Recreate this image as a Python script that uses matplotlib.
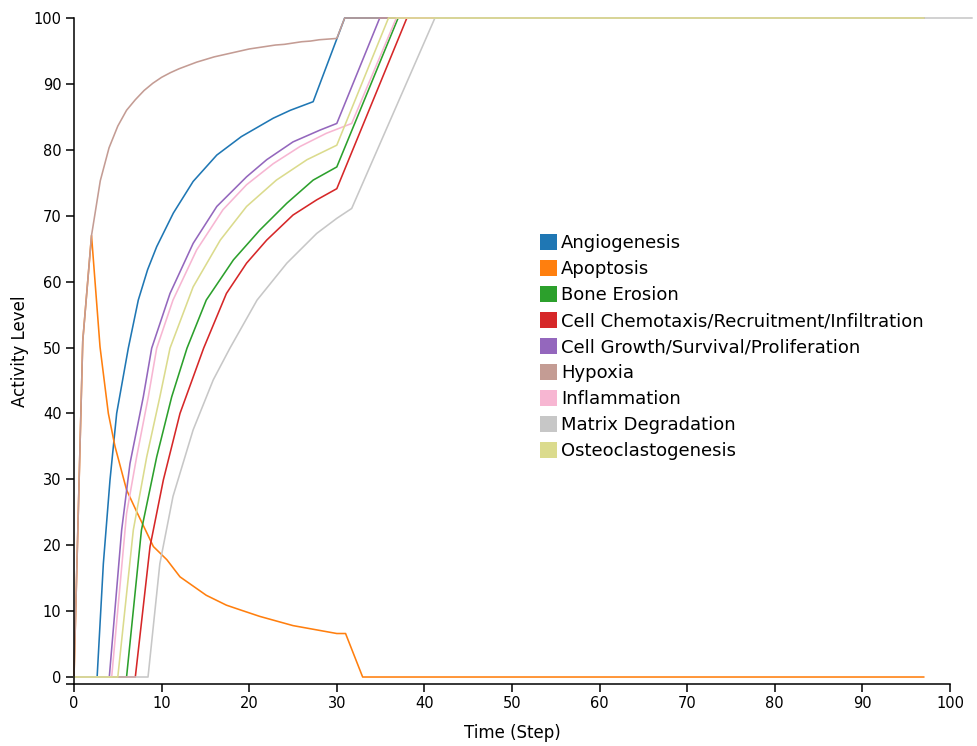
import matplotlib
matplotlib.use("Agg")
import matplotlib.pyplot as plt
from matplotlib.patches import Patch

plt.rcParams['font.family'] = ['DejaVu Sans']

names = ['Angiogenesis', 'Apoptosis', 'Bone Erosion',
         'Cell Chemotaxis/Recruitment/Infiltration',
         'Cell Growth/Survival/Proliferation', 'Hypoxia', 'Inflammation',
         'Matrix Degradation', 'Osteoclastogenesis']
colors = ['#1f77b4', '#ff7f0e', '#2ca02c', '#d62728', '#9467bd',
          '#c49c94', '#f7b6d2', '#c7c7c7', '#dbdb8d']

# values, (time, level) per series
angio_x = [0, 2.64, 3.35, 4.11, 4.87, 6.2, 7.34, 8.4, 9.44, 11.34, 13.6, 16.3,
           19.1, 22.75, 24.7, 27.3, 30.9, 97]
angio_y = [0, 0, 17.2, 29.9, 40.0, 49.9, 57.2, 61.8, 65.3, 70.4, 75.2, 79.2,
           82.0, 84.8, 86.0, 87.3, 100, 100]

apop_x = [0, 1, 2, 2.97, 3.92, 4.68, 6.0, 7.15, 9.06, 10.6, 12.1, 15.1,
          17.4, 18.95, 21.2, 25.0, 30.0, 31.0, 32.95, 97]
apop_y = [0, 51, 67, 50.1, 40.0, 35.0, 28.4, 25.1, 19.8, 17.8, 15.2, 12.4,
          10.9, 10.2, 9.2, 7.8, 6.6, 6.6, 0, 0]

bone_x = [0, 6.0, 7.7, 9.44, 11.15, 12.9, 15.1, 18.2, 21.2, 24.3, 27.3,
          30.0, 37.0, 97]
bone_y = [0, 0, 22.3, 33.4, 42.5, 49.9, 57.2, 63.3, 67.8, 71.9, 75.4,
          77.4, 100, 100]

chemo_x = [0, 7.0, 8.68, 10.2, 12.1, 14.8, 17.4, 19.7, 22.0, 25.0, 27.7,
           30.0, 38.0, 97]
chemo_y = [0, 0, 19.8, 29.9, 40.0, 49.9, 58.2, 62.8, 66.3, 70.1, 72.4,
           74.1, 100, 100]

growth_x = [0, 4.03, 5.44, 6.39, 7.91, 8.87, 10.96, 13.6, 16.3, 19.7, 22.0,
            25.0, 28.1, 30.0, 34.9, 97]
growth_y = [0, 0, 22.3, 32.4, 42.5, 49.9, 58.2, 65.8, 71.4, 75.9, 78.5,
            81.2, 83.0, 84.0, 100, 100]

hypox_x = [0, 1, 2, 3, 4, 5, 6, 7, 8, 9, 10, 11, 12, 13, 14, 15, 16, 17,
           18, 19, 20, 21, 22, 23, 24, 25, 26, 27, 28, 29, 30, 30.9, 97]
hypox_y = [0, 51, 67, 75.3, 80.3, 83.6, 86.0, 87.6, 89.0, 90.1, 91.0, 91.7,
           92.3, 92.8, 93.3, 93.7, 94.1, 94.4, 94.7, 95.0, 95.3, 95.5, 95.7,
           95.9, 96.0, 96.2, 96.4, 96.5, 96.7, 96.8, 96.9, 100, 100]

inflam_x = [0, 4.3, 6.0, 7.15, 8.48, 9.44, 11.3, 14.0, 17.0, 19.7, 22.75,
            25.8, 28.8, 31.7, 36.8, 97]
inflam_y = [0, 0, 24.8, 33.4, 42.5, 49.9, 57.2, 64.8, 70.9, 74.7, 77.9,
            80.5, 82.5, 84.0, 100, 100]

matrix_x = [0, 8.45, 9.8, 11.3, 13.6, 15.9, 17.8, 20.9, 24.3, 27.7, 30.0,
            31.7, 41.2, 102.5]
matrix_y = [0, 0, 17.2, 27.4, 37.5, 45.1, 49.9, 57.2, 62.8, 67.3, 69.6,
            71.1, 100, 100]

osteo_x = [0, 5.0, 6.77, 8.3, 9.8, 10.96, 13.6, 16.7, 19.7, 23.1, 26.6,
           30.0, 35.9, 97]
osteo_y = [0, 0, 22.3, 33.4, 42.5, 49.9, 59.2, 66.3, 71.4, 75.4, 78.5,
           80.7, 100, 100]

series = [(angio_x, angio_y), (apop_x, apop_y), (bone_x, bone_y),
          (chemo_x, chemo_y), (growth_x, growth_y), (hypox_x, hypox_y),
          (inflam_x, inflam_y), (matrix_x, matrix_y), (osteo_x, osteo_y)]

fig = plt.figure(figsize=(9.77, 7.46), dpi=100)
ax = fig.add_axes([74/977, 1 - 683.6/746, 876/977, 665.6/746])

for (xs, ys), c in zip(series, colors):
    ax.plot(xs, ys, color=c, lw=1.15, clip_on=False)

ax.set_xlim(0, 100)
ax.set_ylim(-1, 100)
ax.set_xticks(range(0, 101, 10))
ax.set_yticks(range(0, 101, 10))
ax.set_yticks([-1], minor=True)
ax.tick_params(axis='both', which='both', length=6, width=1.1,
               labelsize=10.5, pad=3)
ax.tick_params(axis='x', which='minor', length=0)

for s in ['top', 'right']:
    ax.spines[s].set_visible(False)
for s in ['left', 'bottom']:
    ax.spines[s].set_linewidth(1.1)

ax.set_xlabel('Time (Step)', fontsize=12, labelpad=9)
ax.set_ylabel('Activity Level', fontsize=12, labelpad=3)

handles = [Patch(facecolor=c, edgecolor='none') for c in colors]
ax.legend(handles, names, loc='upper left',
          bbox_to_anchor=((540 - 74) / 876, (683.6 - 234) / 665.6),
          frameon=False, fontsize=13, handlelength=0.95, handleheight=0.95,
          handletextpad=0.22, labelspacing=0.445, borderaxespad=0,
          borderpad=0)

fig.savefig('out.png', dpi=100)
